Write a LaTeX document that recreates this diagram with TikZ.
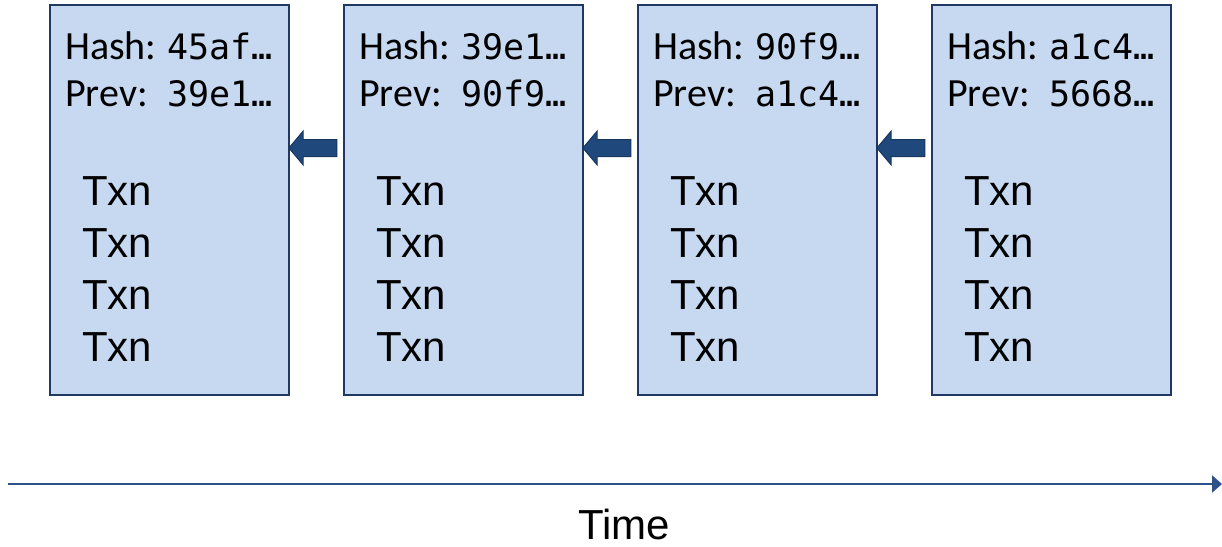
\documentclass[tikz,border=0pt]{standalone}
\usepackage{fontspec}
\setmainfont{Liberation Sans}
\newfontfamily\calib{Carlito}
\newfontfamily\monof{DejaVu Sans Mono}
\usetikzlibrary{shapes.arrows,calc,arrows.meta}
\definecolor{boxfill}{HTML}{C6D9F1}
\definecolor{boxline}{HTML}{1F3864}
\definecolor{arrfill}{HTML}{1F497D}
\definecolor{arrline}{HTML}{17375E}
\definecolor{timeline}{HTML}{2C5289}
\tikzset{
  blockbox/.style={draw=boxline, line width=2pt, fill=boxfill, minimum width=239pt, minimum height=390pt, inner sep=0pt},
  hdr/.style={anchor=base west, inner sep=0pt, font=\calib\fontsize{40}{48}\selectfont},
  txn/.style={anchor=base west, inner sep=0pt, font=\fontsize{42}{50}\selectfont},
  blockarrow/.style={single arrow, shape border rotate=180, draw=arrline, line width=1pt, fill=arrfill,
    inner xsep=0pt, inner ysep=8pt, single arrow head extend=8.5pt, single arrow tip angle=100,
    single arrow head indent=0pt, minimum height=48pt},
  timelbl/.style={inner sep=0pt, anchor=base, font=\fontsize{42}{50}\selectfont}
}
\newcommand{\hx}[1]{{\monof\fontsize{35}{44}\selectfont #1}}
\begin{document}
\begin{tikzpicture}[x=1pt,y=-1pt]
\useasboundingbox (0,0) rectangle (1222,546);
\node[blockbox] (b1) at (169.5,200) {};
\node[blockbox] (b2) at (463.5,200) {};
\node[blockbox] (b3) at (757.5,200) {};
\node[blockbox] (b4) at (1051.5,200) {};
% headers
\node[hdr] (h1) at ($(b1.north west)+(16,55)$) {\makebox[102pt][l]{Hash:}\hx{45af…}};
\node[hdr] (p1) at ($(b1.north west)+(16,102)$) {\makebox[102pt][l]{Prev:}\hx{39e1…}};
\node[hdr] (h2) at ($(b2.north west)+(16,55)$) {\makebox[102pt][l]{Hash:}\hx{39e1…}};
\node[hdr] (p2) at ($(b2.north west)+(16,102)$) {\makebox[102pt][l]{Prev:}\hx{90f9…}};
\node[hdr] (h3) at ($(b3.north west)+(16,55)$) {\makebox[102pt][l]{Hash:}\hx{90f9…}};
\node[hdr] (p3) at ($(b3.north west)+(16,102)$) {\makebox[102pt][l]{Prev:}\hx{a1c4…}};
\node[hdr] (h4) at ($(b4.north west)+(16,55)$) {\makebox[102pt][l]{Hash:}\hx{a1c4…}};
\node[hdr] (p4) at ($(b4.north west)+(16,102)$) {\makebox[102pt][l]{Prev:}\hx{5668…}};
% transactions
\foreach \b in {1,2,3,4}{
  \foreach \r [count=\k] in {201,253,305,357}{
    \node[txn] (t\b-\k) at ($(b\b.north west)+(33,\r)$) {Txn};
  }
}
% block arrows
\node[blockarrow] (a12) at ($(b1.east)!0.5!(b2.west)+(0,-52)$) {};
\node[blockarrow] (a23) at ($(b2.east)!0.5!(b3.west)+(0,-52)$) {};
\node[blockarrow] (a34) at ($(b3.east)!0.5!(b4.west)+(0,-52)$) {};
% time axis
\coordinate (ts) at (8,484);
\coordinate (te) at (1222,484);
\draw[timeline, line width=2.8pt, -{Triangle[length=10pt,width=17pt]}] (ts) -- (te);
\node[timelbl] (time) at (624,539) {Time};
\end{tikzpicture}
\end{document}
